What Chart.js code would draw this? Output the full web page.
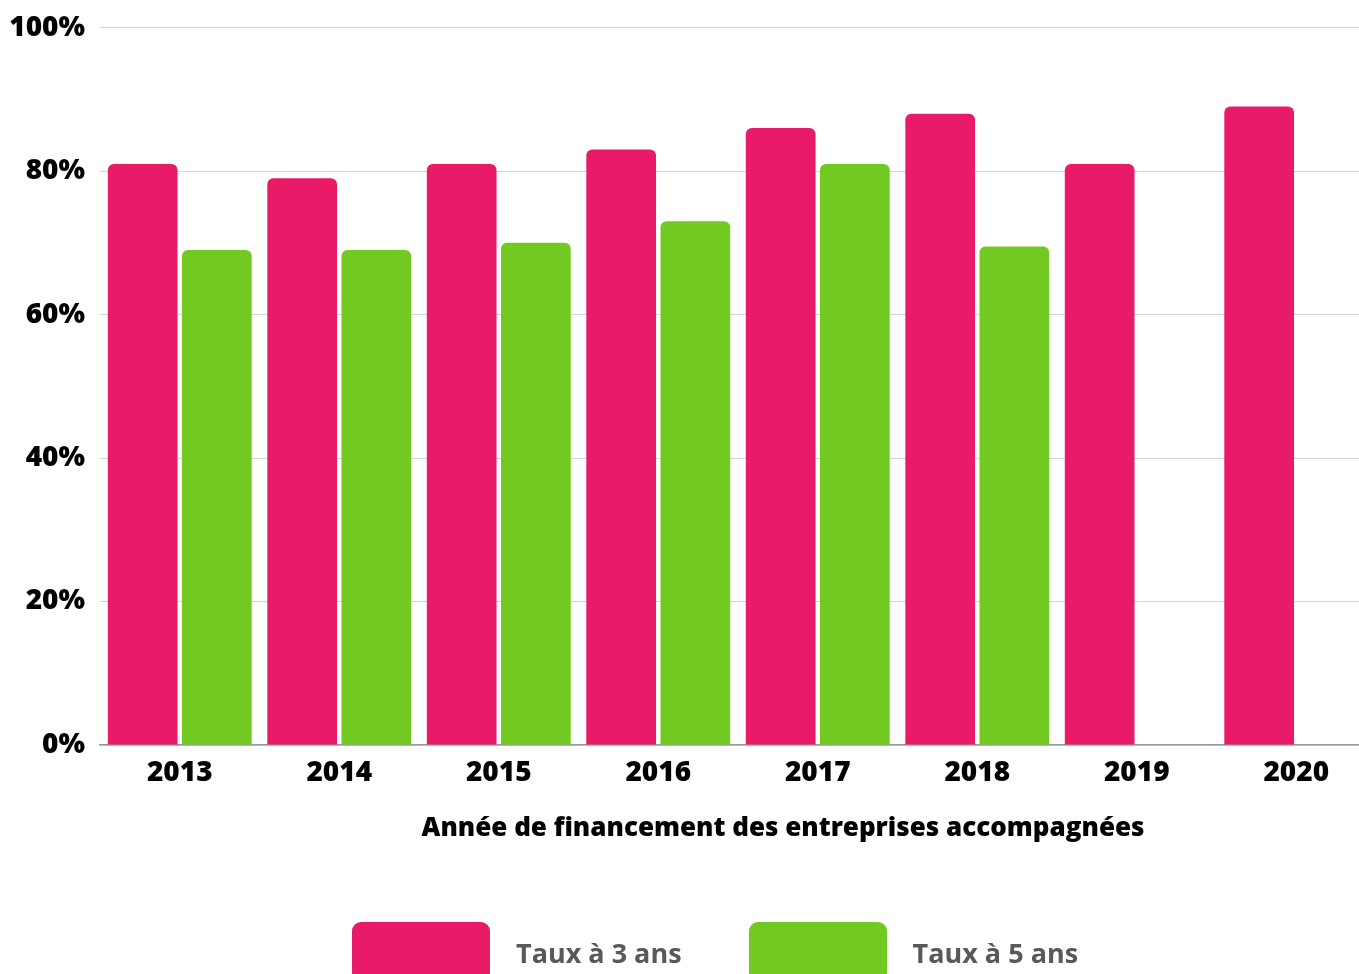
<!DOCTYPE html>
<html lang="fr">
<head>
    <meta charset="UTF-8">
    <title>Taux de survie</title>
    <script src="https://cdn.jsdelivr.net/npm/chart.js@4.4.1/dist/chart.umd.min.js"></script>
    <style>
        html, body { margin: 0; padding: 0; background: #fff; }
        body { width: 1359px; height: 974px; overflow: hidden; position: relative; font-family: "Open Sans", sans-serif; }
        #wrap { position: absolute; left: 0; top: 0; width: 1380px; height: 974px; }
        #axisTitle { position: absolute; top: 808px; left: 783px; transform: translateX(-50%); white-space: nowrap;
                     font-size: 26px; font-weight: 800; color: #000; }
        #legend { position: absolute; top: 922px; left: 352px; display: flex; align-items: center; }
        .item { display: flex; align-items: center; margin-right: 67px; }
        .box { width: 138px; height: 60px; border-radius: 9px; }
        .label { margin-left: 26px; font-size: 27px; font-weight: 700; color: #595959; white-space: nowrap; }
    </style>
</head>
<body>
    <div id="wrap"><canvas id="chart"></canvas></div>
    <div id="axisTitle">Année de financement des entreprises accompagnées</div>
    <div id="legend"></div>

    <script>
        const years = ['2013', '2014', '2015', '2016', '2017', '2018', '2019', '2020'];
        const taux3ans = [81, 79, 81, 83, 86, 88, 81, 89];
        const taux5ans = [69, 69, 70, 73, 81, 69.5, null, null];
        const yTicks = [0, 20, 40, 60, 80, 100];

        const pink = '#e91a68';
        const green = '#72c921';

        const ctx = document.getElementById('chart').getContext('2d');
        const chart = new Chart(ctx, {
            type: 'bar',
            data: {
                labels: years,
                datasets: [
                    { label: 'Taux à 3 ans', data: taux3ans, backgroundColor: pink, borderRadius: 6,
                      categoryPercentage: 0.93, barPercentage: 0.94 },
                    { label: 'Taux à 5 ans', data: taux5ans, backgroundColor: green, borderRadius: 6,
                      categoryPercentage: 0.93, barPercentage: 0.94 }
                ]
            },
            options: {
                responsive: true,
                maintainAspectRatio: false,
                animation: false,
                layout: { padding: { top: 27, right: 4, left: 0, bottom: 0 } },
                plugins: {
                    legend: { display: false },
                    tooltip: { enabled: false }
                },
                scales: {
                    x: {
                        grid: { display: false, drawTicks: false },
                        border: { display: true, color: '#999', width: 1.5 },
                        ticks: { color: '#000', padding: 11, font: { family: 'Open Sans', size: 28, weight: 800 } },
                        afterFit: (scale) => { scale.height = 974 - 745; }
                    },
                    y: {
                        min: 0,
                        max: 100,
                        afterBuildTicks: (scale) => { scale.ticks = yTicks.map(v => ({ value: v })); },
                        grid: { color: '#d4d4d4', lineWidth: 1, drawTicks: false },
                        border: { display: false },
                        ticks: {
                            color: '#000',
                            padding: 15,
                            font: { family: 'Open Sans', size: 28, weight: 800, lineHeight: 0.9 },
                            callback: (v) => v + '%'
                        },
                        afterFit: (scale) => { scale.width = 100; }
                    }
                }
            }
        });

        const legendEl = document.getElementById('legend');
        chart.data.datasets.forEach(ds => {
            const item = document.createElement('div');
            item.className = 'item';
            const box = document.createElement('div');
            box.className = 'box';
            box.style.background = ds.backgroundColor;
            const txt = document.createElement('span');
            txt.className = 'label';
            txt.textContent = ds.label;
            item.appendChild(box);
            item.appendChild(txt);
            legendEl.appendChild(item);
        });
    </script>
</body>
</html>
